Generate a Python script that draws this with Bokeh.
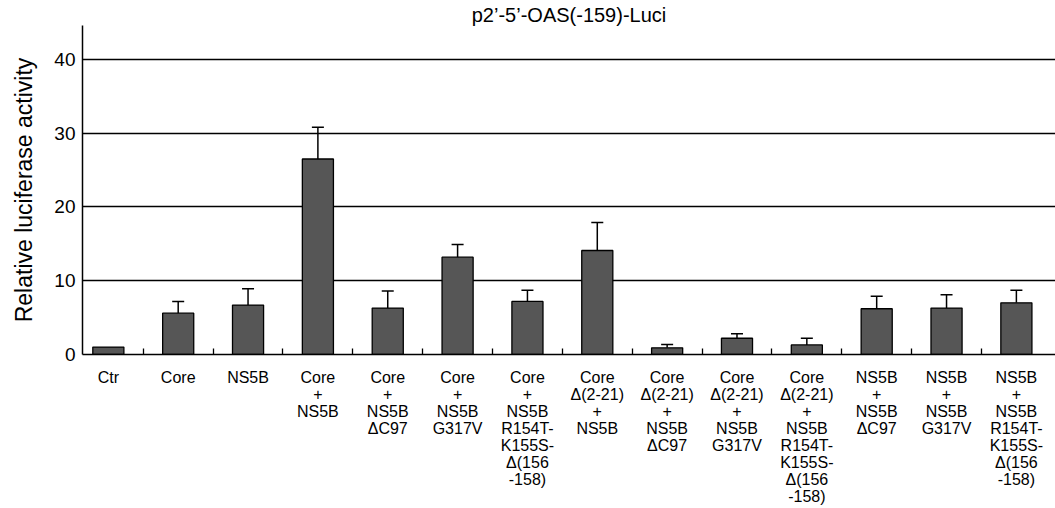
import numpy as np
from bokeh.plotting import figure
from bokeh.models import ColumnDataSource, Range1d, FixedTicker, Whisker, TeeHead
from bokeh.embed import file_html
from bokeh.resources import INLINE

# ---- data ----
categories = [
    "Ctr",
    "Core",
    "NS5B",
    "Core\n+\nNS5B",
    "Core\n+\nNS5B\nΔC97",
    "Core\n+\nNS5B\nG317V",
    "Core\n+\nNS5B\nR154T-\nK155S-\nΔ(156\n-158)",
    "Core\nΔ(2-21)\n+\nNS5B",
    "Core\nΔ(2-21)\n+\nNS5B\nΔC97",
    "Core\nΔ(2-21)\n+\nNS5B\nG317V",
    "Core\nΔ(2-21)\n+\nNS5B\nR154T-\nK155S-\nΔ(156\n-158)",
    "NS5B\n+\nNS5B\nΔC97",
    "NS5B\n+\nNS5B\nG317V",
    "NS5B\n+\nNS5B\nR154T-\nK155S-\nΔ(156\n-158)",
]
values = [1.0, 5.6, 6.7, 26.5, 6.3, 13.2, 7.2, 14.1, 0.9, 2.2, 1.3, 6.2, 6.3, 7.0]
error_tops = [None, 7.2, 8.9, 30.8, 8.6, 14.9, 8.7, 17.9, 1.35, 2.8, 2.2, 7.9, 8.1, 8.7]
y_ticks = [0, 10, 20, 30, 40]
title_text = "p2’-5’-OAS(-159)-Luci"
y_label = "Relative luciferase activity"

FONT = "Liberation Sans"
n = len(categories)
xs = np.arange(n)

src = ColumnDataSource(dict(x=xs, top=values))
ex = [float(x) for x, e in zip(xs, error_tops) if e is not None]
elo = [v for v, e in zip(values, error_tops) if e is not None]
ehi = [e for e in error_tops if e is not None]
err_src = ColumnDataSource(dict(x=ex, lower=elo, upper=ehi))

p = figure(width=1055, height=508, output_backend="svg", toolbar_location=None,
           x_range=Range1d(-0.37, n - 0.44), y_range=Range1d(0, 44.6),
           min_border_left=82, min_border_right=0, min_border_top=25,
           min_border_bottom=154, title=title_text)
p.outline_line_color = None
p.background_fill_color = "white"
p.border_fill_color = "white"

p.title.text_font = FONT
p.title.text_font_size = "20px"
p.title.text_font_style = "normal"
p.title.align = "center"
p.title.standoff = 0
p.title.text_color = "black"

p.vbar(x="x", top="top", width=0.445, source=src,
       fill_color="#565656", line_color="black", line_width=1.3)

wh = Whisker(source=err_src, base="x", lower="lower", upper="upper",
             upper_head=TeeHead(size=12, line_width=1.5, line_color="black"),
             lower_head=None, line_width=1.5, line_color="black")
p.add_layout(wh)

# grid
p.xgrid.visible = False
p.ygrid.ticker = FixedTicker(ticks=y_ticks[1:])
p.ygrid.grid_line_color = "black"
p.ygrid.grid_line_width = 1.3

# y axis
ya = p.yaxis[0]
ya.ticker = FixedTicker(ticks=y_ticks)
ya.major_tick_in = 0
ya.major_tick_out = 0
ya.minor_tick_in = 0
ya.minor_tick_out = 0
ya.axis_line_color = "black"
ya.axis_line_width = 1.5
ya.major_label_text_font = FONT
ya.major_label_text_font_size = "19px"
ya.major_label_text_color = "black"
ya.major_label_standoff = 7
ya.axis_label = y_label
ya.axis_label_text_font = FONT
ya.axis_label_text_font_size = "23px"
ya.axis_label_text_font_style = "normal"
ya.axis_label_text_color = "black"
ya.axis_label_standoff = 14

# x axis
xa = p.xaxis[0]
xa.ticker = FixedTicker(ticks=list(xs), minor_ticks=list(xs[:-1] + 0.5))
xa.major_label_overrides = {int(i): lab for i, lab in zip(xs, categories)}
xa.major_tick_in = 0
xa.major_tick_out = 0
xa.minor_tick_in = 6
xa.minor_tick_out = 0
xa.minor_tick_line_color = "black"
xa.minor_tick_line_width = 1.3
xa.axis_line_color = "black"
xa.axis_line_width = 1.5
xa.major_label_text_font = FONT
xa.major_label_text_font_size = "16px"
xa.major_label_text_color = "black"
xa.major_label_text_line_height = 1.0
xa.major_label_standoff = 14

open("out.html", "w").write(file_html(p, INLINE))
